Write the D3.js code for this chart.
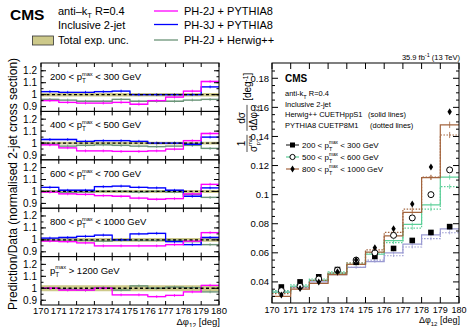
<!DOCTYPE html>
<html>
<head>
<meta charset="utf-8">
<script src="https://cdn.jsdelivr.net/npm/d3@7"></script>
<style>
  body { margin: 0; background: #fff; }
  svg { font-family: "Liberation Sans", Arial, sans-serif; }
</style>
</head>
<body>
<svg id="chart" width="467" height="327"></svg>
<script>
// bins in delta phi_12 (deg)
const edges = d3.range(170, 181);
const xTicks = d3.range(170, 181);

// left: ratio panels
const panelLo = [200, 400, 600, 800, 1200];
const panelHi = [300, 500, 700, 1000, null];
const ph2jPythia = [
  [0.95, 0.935, 0.93, 0.93, 0.935, 0.92, 0.95, 0.98, 1.03, 1.11],
  [0.985, 0.96, 0.935, 0.935, 0.93, 0.93, 0.935, 0.95, 1.02, 1.08],
  [0.995, 0.98, 0.975, 0.965, 0.96, 0.945, 0.935, 0.94, 0.98, 1.06],
  [0.99, 0.985, 0.975, 0.95, 0.95, 0.95, 0.95, 0.96, 0.99, 1.06],
  [1.0, 0.985, 0.985, 1.0, 0.945, 0.945, 0.93, 0.94, 0.97, 1.025]
];
const ph3jPythia = [
  [1.025, 1.02, 1.02, 1.025, 1.03, 1.0, 1.0, 1.0, 1.0, 1.065],
  [1.03, 1.03, 1.015, 1.02, 1.02, 1.015, 1.0, 1.0, 0.99, 1.05],
  [1.035, 1.01, 1.01, 1.04, 1.045, 1.035, 1.03, 1.01, 0.96, 1.03],
  [1.015, 1.02, 1.03, 1.04, 1.0, 1.05, 1.055, 0.985, 0.96, 1.02],
  null
];
const ph2jHerwig = [
  [0.96, 0.955, 0.945, 0.945, 0.96, 0.945, 0.945, 0.945, 0.955, 0.96],
  [0.99, 0.975, 0.98, 0.985, 0.98, 0.975, 0.97, 0.975, 0.98, 0.955],
  [1.0, 0.99, 0.995, 1.0, 1.0, 0.995, 1.0, 0.995, 0.975, 0.95],
  [0.995, 0.99, 0.995, 0.99, 1.0, 0.995, 0.995, 0.995, 0.985, 0.96],
  [1.0, 0.99, 0.985, 1.005, 0.985, 1.02, 1.0, 1.01, 1.005, 0.97]
];
const uncHalf = [0.015, 0.012, 0.012, 0.015, 0.025];
const ratioTicks = [0.9, 1, 1.1, 1.2];

// right: normalised distributions
const dist200 = [0.0365, 0.040, 0.0435, 0.0485, 0.0535, 0.0575, 0.063, 0.0685, 0.074, 0.078];
const dist500 = [0.034, 0.037, 0.042, 0.048, 0.055, 0.060, 0.072, 0.084, 0.100, 0.117];
const dist800 = [0.031, 0.0355, 0.040, 0.047, 0.055, 0.0635, 0.0765, 0.0935, 0.119, 0.157];
const herwig200 = [0.033, 0.036, 0.040, 0.045, 0.050, 0.054, 0.060, 0.066, 0.0724, 0.0765];
const herwig500 = [0.033, 0.037, 0.041, 0.046, 0.052, 0.059, 0.0684, 0.0795, 0.093, 0.112];
const herwig800 = [0.030, 0.035, 0.039, 0.045, 0.052, 0.0605, 0.0717, 0.0878, 0.1117, 0.148];
const pythia200 = [0.034, 0.037, 0.041, 0.046, 0.050, 0.055, 0.058, 0.064, 0.0697, 0.0738];
const pythia500 = [0.034, 0.038, 0.042, 0.047, 0.053, 0.060, 0.067, 0.077, 0.090, 0.1055];
const pythia800 = [0.032, 0.036, 0.041, 0.046, 0.053, 0.062, 0.074, 0.090, 0.112, 0.141];
const distTicks = [0.04, 0.06, 0.08, 0.1, 0.12, 0.14, 0.16, 0.18];

const MAG = "#ff00ff", BLUE = "#0000ff", HER = "#6b9478";
const BAND = "#cdc98a";
const C200 = "#9a9ad2", C500 = "#5ccf98", C800 = "#a3643e";

const svg = d3.select("#chart");
const NB = "\u00a0";

// helper: "pre p_T^max post"
function ptText(g, x, y, fs, pre, post) {
  const t1 = g.append("text").attr("x", x).attr("y", y).style("font-size", fs + "px").text(pre + "p");
  const w1 = t1.node().getComputedTextLength();
  const sup = g.append("text").attr("x", x + w1).attr("y", y - fs * 0.45)
    .style("font-size", (fs * 0.6) + "px").text("max");
  const sub = g.append("text").attr("x", x + w1).attr("y", y + fs * 0.32)
    .style("font-size", (fs * 0.68) + "px").text("T");
  const w2 = Math.max(sup.node().getComputedTextLength(), sub.node().getComputedTextLength());
  const t3 = g.append("text").attr("x", x + w1 + w2).attr("y", y).style("font-size", fs + "px").text(post);
  return w1 + w2 + t3.node().getComputedTextLength();
}

const stepPts = vals => vals.map((v, i) => [edges[i], v]).concat([[180, vals[vals.length - 1]]]);

// ---------- left ratio panels ----------
const L = { x0: 41, x1: 219, top: 63, bottom: 305 };
const ph = (L.bottom - L.top) / 5;
const xL = d3.scaleLinear().domain([170, 180]).range([L.x0, L.x1]);

panelLo.forEach((lo, p) => {
  const y0 = L.top + p * ph, y1 = y0 + ph;
  const y = d3.scaleLinear().domain([0.86, 1.265]).range([y1, y0]);
  const g = svg.append("g");

  // total exp. uncertainty band
  const band = d3.area().curve(d3.curveStepAfter)
    .x(d => xL(d[0])).y0(y(1 - uncHalf[p])).y1(y(1 + uncHalf[p]));
  g.append("path").datum(stepPts(edges.slice(0, 10).map(() => 1)))
    .attr("d", band).attr("fill", BAND);

  const series = [[ph2jHerwig[p], HER], [ph3jPythia[p], BLUE], [ph2jPythia[p], MAG]];
  series.forEach(([vals, col]) => {
    if (!vals) return;
    const halo = d3.area().curve(d3.curveStepAfter)
      .x(d => xL(d[0])).y0(d => y(d[1] - 0.007)).y1(d => y(d[1] + 0.007));
    g.append("path").datum(stepPts(vals)).attr("d", halo).attr("fill", col).attr("opacity", 0.25);
    const line = d3.line().curve(d3.curveStepAfter).x(d => xL(d[0])).y(d => y(d[1]));
    g.append("path").datum(stepPts(vals)).attr("d", line)
      .attr("fill", "none").attr("stroke", col).attr("stroke-width", 1.3);
    g.selectAll(null).data(vals).enter().append("line")
      .attr("x1", (d, i) => xL(edges[i] + 0.5)).attr("x2", (d, i) => xL(edges[i] + 0.5))
      .attr("y1", d => y(d - 0.012)).attr("y2", d => y(d + 0.012))
      .attr("stroke", col).attr("stroke-width", 0.8);
  });

  g.append("line").attr("x1", L.x0).attr("x2", L.x1).attr("y1", y(1)).attr("y2", y(1))
    .attr("stroke", "#000").attr("stroke-width", 1.3).attr("stroke-dasharray", "3,2.5");

  // frame + ticks
  g.append("rect").attr("x", L.x0).attr("y", y0).attr("width", L.x1 - L.x0).attr("height", ph)
    .attr("fill", "none").attr("stroke", "#000").attr("stroke-width", 1);
  xTicks.forEach(t => {
    g.append("line").attr("x1", xL(t)).attr("x2", xL(t)).attr("y1", y1).attr("y2", y1 - 4).attr("stroke", "#000");
    g.append("line").attr("x1", xL(t)).attr("x2", xL(t)).attr("y1", y0).attr("y2", y0 + 4).attr("stroke", "#000");
  });
  ratioTicks.forEach(t => {
    g.append("line").attr("x1", L.x0).attr("x2", L.x0 + 5).attr("y1", y(t)).attr("y2", y(t)).attr("stroke", "#000");
    g.append("line").attr("x1", L.x1).attr("x2", L.x1 - 5).attr("y1", y(t)).attr("y2", y(t)).attr("stroke", "#000");
    g.append("text").attr("x", L.x0 - 4).attr("y", y(t) + 3.5).attr("text-anchor", "end")
      .style("font-size", "10px").text(String(t));
  });
  d3.range(0.9, 1.25, 0.05).forEach(t => {
    g.append("line").attr("x1", L.x0).attr("x2", L.x0 + 2.5).attr("y1", y(t)).attr("y2", y(t)).attr("stroke", "#000");
    g.append("line").attr("x1", L.x1).attr("x2", L.x1 - 2.5).attr("y1", y(t)).attr("y2", y(t)).attr("stroke", "#000");
  });

  // panel label
  const hi = panelHi[p];
  if (hi) ptText(g, 50, y0 + 17, 9.5, lo + " < ", NB + "< " + hi + " GeV");
  else ptText(g, 50, y0 + 17, 9.5, "", NB + "> " + lo + " GeV");
});

// left x axis labels
svg.append("g").selectAll("text").data(xTicks).enter().append("text")
  .attr("x", d => xL(d)).attr("y", L.bottom + 8.5).attr("text-anchor", "middle")
  .style("font-size", "9.5px").text(d => d);
{
  const t = svg.append("text").attr("x", L.x1 + 1).attr("y", L.bottom + 20).attr("text-anchor", "end").style("font-size", "9.5px");
  t.append("tspan").text("\u0394\u03c6");
  t.append("tspan").attr("dy", 2.5).style("font-size", "6.5px").text("12");
  t.append("tspan").attr("dy", -2.5).text(NB + "[deg]");
}
svg.append("text").attr("transform", `translate(17,${(L.top + L.bottom) / 2}) rotate(-90)`)
  .attr("text-anchor", "middle").style("font-size", "12px")
  .text("Prediction/Data (normalised 2-jet cross section)");

// top legend
svg.append("text").attr("x", 10).attr("y", 20).style("font-size", "15.5px").style("font-weight", "bold").text("CMS");
{
  const t = svg.append("text").attr("x", 58).attr("y", 15).style("font-size", "11px");
  t.append("tspan").text("anti\u2013k");
  t.append("tspan").attr("dy", 3).style("font-size", "7.5px").text("T");
  t.append("tspan").attr("dy", -3).text(NB + "R=0.4");
}
svg.append("text").attr("x", 58).attr("y", 28.5).style("font-size", "11px").text("Inclusive 2-jet");
svg.append("rect").attr("x", 32.5).attr("y", 36).attr("width", 21).attr("height", 9)
  .attr("fill", BAND).attr("stroke", "#333").attr("stroke-width", 0.8);
svg.append("text").attr("x", 58).attr("y", 44).style("font-size", "11px").text("Total exp. unc.");
const mcNames = ["PH-2J + PYTHIA8", "PH-3J + PYTHIA8", "PH-2J + Herwig++"];
const mcCols = [MAG, BLUE, HER];
mcNames.forEach((n, i) => {
  const yy = [11, 24.5, 40][i];
  svg.append("line").attr("x1", 154).attr("x2", 178).attr("y1", yy).attr("y2", yy)
    .attr("stroke", mcCols[i]).attr("stroke-width", 1.3);
  svg.append("text").attr("x", 184).attr("y", yy + 4).style("font-size", "11px").text(n);
});

// ---------- right distribution panel ----------
const R = { x0: 272, x1: 459, top: 63, bottom: 303 };
const xR = d3.scaleLinear().domain([170, 180]).range([R.x0, R.x1]);
const yR = d3.scaleLinear().domain([0.0255, 0.1905]).range([R.bottom, R.top]);
const gr = svg.append("g");

const rLine = d3.line().curve(d3.curveStepAfter).x(d => xR(d[0])).y(d => yR(d[1]));
const mcSets = [[herwig200, pythia200, C200], [herwig500, pythia500, C500], [herwig800, pythia800, C800]];
mcSets.forEach(([hw, py, col]) => {
  gr.append("path").datum(stepPts(py)).attr("d", rLine).attr("fill", "none")
    .attr("stroke", col).attr("stroke-width", 1.2).attr("stroke-dasharray", "1.5,1.5");
  gr.append("path").datum(stepPts(hw)).attr("d", rLine).attr("fill", "none")
    .attr("stroke", col).attr("stroke-width", 1.2);
  [hw, py].forEach(vals => {
    gr.selectAll(null).data(vals).enter().append("line")
      .attr("x1", (d, i) => xR(edges[i] + 0.5)).attr("x2", (d, i) => xR(edges[i] + 0.5))
      .attr("y1", d => yR(d * 0.985)).attr("y2", d => yR(d * 1.015))
      .attr("stroke", col).attr("stroke-width", 0.8);
  });
});

const centers = edges.slice(0, 10).map(e => e + 0.5);
// markers
gr.selectAll(null).data(dist200).enter().append("rect")
  .attr("x", (d, i) => xR(centers[i]) - 2.8).attr("y", d => yR(d) - 2.8)
  .attr("width", 5.6).attr("height", 5.6).attr("fill", "#000");
gr.selectAll(null).data(dist500).enter().append("circle")
  .attr("cx", (d, i) => xR(centers[i])).attr("cy", d => yR(d)).attr("r", 3)
  .attr("fill", "#fff").attr("stroke", "#000").attr("stroke-width", 1);
const diamond = (cx, cy) => `M${cx},${cy - 3.5}L${cx + 2.2},${cy}L${cx},${cy + 3.5}L${cx - 2.2},${cy}Z`;
gr.selectAll(null).data(dist800).enter().append("path")
  .attr("d", (d, i) => diamond(xR(centers[i]), yR(d))).attr("fill", "#000");

// frame + ticks
gr.append("rect").attr("x", R.x0).attr("y", R.top).attr("width", R.x1 - R.x0).attr("height", R.bottom - R.top)
  .attr("fill", "none").attr("stroke", "#000").attr("stroke-width", 1);
xTicks.forEach(t => {
  gr.append("line").attr("x1", xR(t)).attr("x2", xR(t)).attr("y1", R.bottom).attr("y2", R.bottom - 6).attr("stroke", "#000");
  gr.append("line").attr("x1", xR(t)).attr("x2", xR(t)).attr("y1", R.top).attr("y2", R.top + 6).attr("stroke", "#000");
});
d3.range(0.03, 0.19, 0.005).forEach(t => {
  const major = Math.abs(Math.round(t * 50) - t * 50) < 1e-6;
  const len = major ? 6 : 3;
  gr.append("line").attr("x1", R.x0).attr("x2", R.x0 + len).attr("y1", yR(t)).attr("y2", yR(t)).attr("stroke", "#000");
  gr.append("line").attr("x1", R.x1).attr("x2", R.x1 - len).attr("y1", yR(t)).attr("y2", yR(t)).attr("stroke", "#000");
});
distTicks.forEach(t => {
  gr.append("text").attr("x", R.x0 - 3).attr("y", yR(t) + 3.5).attr("text-anchor", "end")
    .style("font-size", "9.5px").text(String(+t.toFixed(2)));
});
gr.selectAll(null).data(xTicks).enter().append("text")
  .attr("x", d => xR(d)).attr("y", R.bottom + 10).attr("text-anchor", "middle")
  .style("font-size", "9px").text(d => d);
{
  const t = gr.append("text").attr("x", R.x1 + 1).attr("y", R.bottom + 20).attr("text-anchor", "end").style("font-size", "9px");
  t.append("tspan").text("\u0394\u03c6");
  t.append("tspan").attr("dy", 2.5).style("font-size", "6px").text("12");
  t.append("tspan").attr("dy", -2.5).text(NB + "[deg]");
}
{
  const t = gr.append("text").attr("x", R.x1 + 1).attr("y", R.top - 3).attr("text-anchor", "end").style("font-size", "7.5px");
  t.append("tspan").text("35.9 fb");
  t.append("tspan").attr("dy", -3).style("font-size", "5.5px").text("-1");
  t.append("tspan").attr("dy", 3).text(NB + "(13 TeV)");
}

// right y title: 1/sigma dsigma/d dphi12 [deg^-1]
{
  const g = gr.append("g").attr("transform", "translate(247,152) rotate(-90)").style("font-size", "10px");
  let x = 0;
  // fraction 1
  const den = g.append("text").attr("x", x).attr("y", 10).text("\u03c3");
  const wS = den.node().getComputedTextLength();
  g.append("text").attr("x", x + wS).attr("y", 5).style("font-size", "5.5px").text("max");
  g.append("text").attr("x", x + wS + 0.5).attr("y", 12.5).style("font-size", "5.5px").text("p");
  g.append("text").attr("x", x + wS + 3.8).attr("y", 14).style("font-size", "4.5px").text("T");
  const w1 = wS + 11;
  g.append("line").attr("x1", x).attr("x2", x + w1).attr("y1", 0).attr("y2", 0).attr("stroke", "#000").attr("stroke-width", 0.7);
  g.append("text").attr("x", x + w1 / 2).attr("y", -2).attr("text-anchor", "middle").text("1");
  x += w1 + 4;
  // fraction 2
  const d2 = g.append("text").attr("x", x).attr("y", 10);
  d2.append("tspan").text("d\u0394\u03c6");
  d2.append("tspan").attr("dy", 2).style("font-size", "6.5px").text("12");
  const w2 = d2.node().getComputedTextLength();
  g.append("line").attr("x1", x).attr("x2", x + w2).attr("y1", 0).attr("y2", 0).attr("stroke", "#000").attr("stroke-width", 0.7);
  g.append("text").attr("x", x + w2 / 2).attr("y", -2).attr("text-anchor", "middle").text("d\u03c3");
  x += w2 + 4;
  const t = g.append("text").attr("x", x).attr("y", 4);
  t.append("tspan").text("[deg");
  t.append("tspan").attr("dy", -3.5).style("font-size", "6.5px").text("-1");
  t.append("tspan").attr("dy", 3.5).text("]");
}

// right legend
{
  const fs = 7.5;
  gr.append("text").attr("x", 285).attr("y", 82).style("font-size", "10px").style("font-weight", "bold").text("CMS");
  const t = gr.append("text").attr("x", 285).attr("y", 96).style("font-size", fs + "px");
  t.append("tspan").text("anti-k");
  t.append("tspan").attr("dy", 2.5).style("font-size", "5.5px").text("T");
  t.append("tspan").attr("dy", -2.5).text(NB + "R=0.4");
  gr.append("text").attr("x", 285).attr("y", 107).style("font-size", fs + "px").text("Inclusive 2-jet");
  gr.append("text").attr("x", 285).attr("y", 117).style("font-size", fs + "px").text("Herwig++ CUETHppS1");
  gr.append("text").attr("x", 368).attr("y", 117).style("font-size", fs + "px").text("(solid lines)");
  gr.append("text").attr("x", 285).attr("y", 127.5).style("font-size", fs + "px").text("PYTHIA8 CUETP8M1");
  gr.append("text").attr("x", 370).attr("y", 127.5).style("font-size", fs + "px").text("(dotted lines)");

  const entries = [[200, 300, C200], [500, 600, C500], [800, 1000, C800]];
  entries.forEach(([lo, hi, col], i) => {
    const yy = [145, 157, 169][i];
    gr.append("line").attr("x1", 286).attr("x2", 299).attr("y1", yy).attr("y2", yy)
      .attr("stroke", i === 0 ? "#333" : col).attr("stroke-width", 1.2);
    if (i === 0) gr.append("rect").attr("x", 290).attr("y", yy - 2.5).attr("width", 5).attr("height", 5).attr("fill", "#000");
    if (i === 1) gr.append("circle").attr("cx", 292.5).attr("cy", yy).attr("r", 2.6).attr("fill", "#fff").attr("stroke", "#000");
    if (i === 2) gr.append("path").attr("d", diamond(292.5, yy)).attr("fill", "#000");
    ptText(gr, 302, yy + 3, 8, lo + " < ", NB + "< " + hi + " GeV");
  });
}
</script>
</body>
</html>
